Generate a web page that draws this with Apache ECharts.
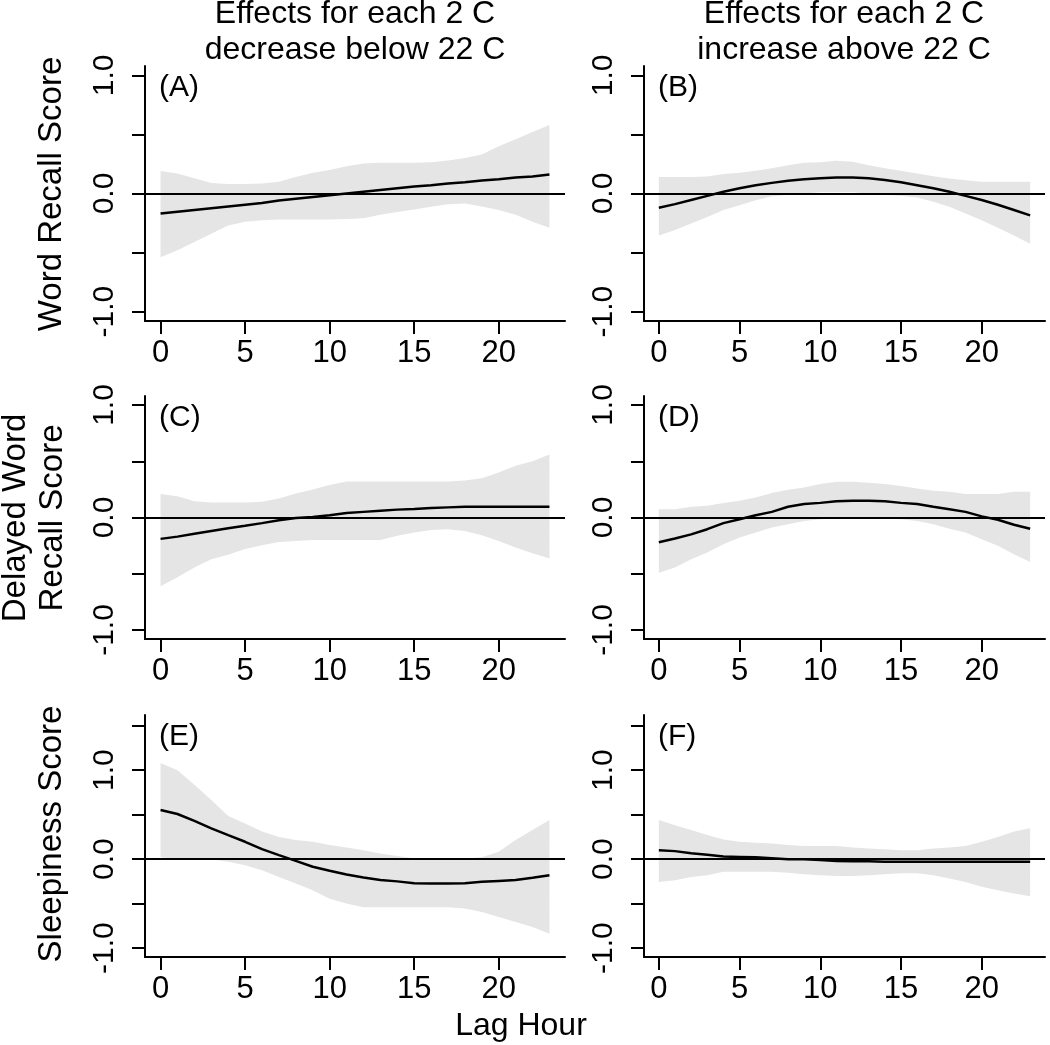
<!DOCTYPE html>
<html>
<head>
<meta charset="utf-8">
<script src="https://cdn.jsdelivr.net/npm/echarts@6/dist/echarts.min.js"></script>
<style>
html,body{margin:0;padding:0;background:#fff;}
#chart{width:1050px;height:1045px;}
</style>
</head>
<body>
<div id="chart"></div>
<script>
// ---- data ----
const lagHours = [0,1,2,3,4,5,6,7,8,9,10,11,12,13,14,15,16,17,18,19,20,21,22,23];
const xTicks = [0,5,10,15,20];
const yTicksAB = [-1,-0.5,0,0.5,1];
const yTicksE = [-1,-0.5,0,0.5,1,1.5];
const yLabels = [-1,0,1];

const fitA = [-0.17,-0.155,-0.14,-0.125,-0.11,-0.095,-0.08,-0.06,-0.045,-0.03,-0.015,0.0,0.015,0.03,0.045,0.06,0.07,0.085,0.095,0.11,0.12,0.135,0.145,0.16];
const hiA  = [0.19,0.17,0.13,0.09,0.08,0.08,0.085,0.10,0.14,0.175,0.20,0.23,0.255,0.26,0.26,0.26,0.265,0.28,0.30,0.33,0.40,0.46,0.52,0.58];
const loA  = [-0.54,-0.48,-0.41,-0.34,-0.27,-0.24,-0.227,-0.22,-0.22,-0.22,-0.22,-0.216,-0.21,-0.18,-0.156,-0.136,-0.113,-0.09,-0.085,-0.11,-0.14,-0.18,-0.24,-0.29];

const fitB = [-0.12,-0.09,-0.055,-0.02,0.015,0.045,0.07,0.09,0.108,0.12,0.13,0.136,0.136,0.13,0.115,0.095,0.07,0.045,0.015,-0.02,-0.055,-0.095,-0.14,-0.185];
const hiB  = [0.14,0.14,0.14,0.145,0.165,0.176,0.193,0.213,0.24,0.26,0.265,0.278,0.27,0.24,0.213,0.193,0.17,0.147,0.128,0.113,0.1,0.1,0.1,0.1];
const loB  = [-0.355,-0.31,-0.255,-0.2,-0.14,-0.1,-0.057,-0.023,-0.01,0.0,0.01,0.01,0.01,0.0,-0.01,-0.02,-0.034,-0.07,-0.113,-0.17,-0.227,-0.29,-0.355,-0.425];

const fitC = [-0.19,-0.17,-0.145,-0.12,-0.095,-0.074,-0.05,-0.025,-0.005,0.005,0.02,0.04,0.05,0.06,0.07,0.075,0.085,0.09,0.095,0.095,0.095,0.095,0.095,0.095];
const hiC  = [0.21,0.19,0.145,0.134,0.134,0.134,0.14,0.17,0.214,0.25,0.29,0.32,0.32,0.32,0.32,0.32,0.32,0.32,0.33,0.35,0.40,0.46,0.50,0.56];
const loC  = [-0.61,-0.53,-0.445,-0.37,-0.33,-0.28,-0.246,-0.217,-0.208,-0.2,-0.2,-0.2,-0.2,-0.2,-0.163,-0.134,-0.11,-0.104,-0.12,-0.157,-0.208,-0.267,-0.318,-0.365];

const fitD = [-0.22,-0.187,-0.15,-0.104,-0.05,-0.015,0.02,0.05,0.095,0.12,0.13,0.145,0.148,0.148,0.145,0.13,0.12,0.095,0.074,0.05,0.01,-0.02,-0.065,-0.1];
const hiD  = [0.074,0.074,0.095,0.104,0.128,0.148,0.178,0.217,0.246,0.267,0.297,0.317,0.317,0.31,0.297,0.28,0.258,0.237,0.228,0.208,0.208,0.208,0.228,0.228];
const loD  = [-0.49,-0.445,-0.37,-0.31,-0.237,-0.178,-0.134,-0.089,-0.06,-0.03,-0.015,-0.01,-0.01,-0.01,-0.01,-0.015,-0.03,-0.06,-0.1,-0.134,-0.193,-0.252,-0.326,-0.395];

const fitE = [0.553,0.507,0.43,0.346,0.27,0.195,0.113,0.045,-0.019,-0.086,-0.13,-0.173,-0.207,-0.235,-0.25,-0.27,-0.274,-0.274,-0.27,-0.255,-0.245,-0.235,-0.21,-0.18];
const hiE  = [1.08,1.0,0.835,0.665,0.485,0.4,0.31,0.25,0.214,0.195,0.158,0.13,0.1,0.064,0.034,0.008,0.008,0.008,0.008,0.02,0.083,0.214,0.327,0.44];
const loE  = [0.02,0.0,0.0,0.0,-0.03,-0.068,-0.124,-0.2,-0.274,-0.35,-0.444,-0.5,-0.54,-0.54,-0.54,-0.54,-0.54,-0.54,-0.556,-0.594,-0.65,-0.707,-0.763,-0.838];

const fitF = [0.1,0.09,0.065,0.05,0.03,0.025,0.02,0.01,0.0,0.0,-0.01,-0.02,-0.025,-0.025,-0.03,-0.03,-0.03,-0.03,-0.03,-0.03,-0.03,-0.03,-0.03,-0.03];
const hiF  = [0.44,0.38,0.327,0.27,0.22,0.195,0.184,0.177,0.158,0.147,0.147,0.147,0.13,0.12,0.11,0.1,0.1,0.12,0.13,0.147,0.195,0.25,0.31,0.346];
const loF  = [-0.256,-0.237,-0.2,-0.18,-0.143,-0.143,-0.143,-0.143,-0.154,-0.17,-0.18,-0.19,-0.19,-0.18,-0.17,-0.16,-0.16,-0.18,-0.218,-0.256,-0.31,-0.35,-0.387,-0.417];

const panelTags = ['(A)','(B)','(C)','(D)','(E)','(F)'];
const colTitles = ['Effects for each 2 C\ndecrease below 22 C','Effects for each 2 C\nincrease above 22 C'];
const rowTitles = ['Word Recall Score','Delayed Word\nRecall Score','Sleepiness Score'];
const xTitle = 'Lag Hour';

// ---- layout ----
const FONT = 'Liberation Sans, Arial, sans-serif';
const panels = [
  {fit:fitA, hi:hiA, lo:loA, left:145, width:420, top:66, height:255, ymin:-1.08, ymax:1.08, ticks:yTicksAB},
  {fit:fitB, hi:hiB, lo:loB, left:644, width:401, top:66, height:255, ymin:-1.08, ymax:1.08, ticks:yTicksAB},
  {fit:fitC, hi:hiC, lo:loC, left:145, width:420, top:396, height:243, ymin:-1.08, ymax:1.08, ticks:yTicksAB},
  {fit:fitD, hi:hiD, lo:loD, left:644, width:401, top:396, height:243, ymin:-1.08, ymax:1.08, ticks:yTicksAB},
  {fit:fitE, hi:hiE, lo:loE, left:145, width:420, top:715, height:242, ymin:-1.1, ymax:1.62, ticks:yTicksE},
  {fit:fitF, hi:hiF, lo:loF, left:644, width:401, top:715, height:242, ymin:-1.1, ymax:1.62, ticks:yTicksE}
];

const grid = [], xAxis = [], yAxis = [], series = [], graphic = [];
const axisLine = {show:true, onZero:false, lineStyle:{color:'#000', width:2}};

panels.forEach((p, i) => {
  grid.push({left:p.left, top:p.top, width:p.width, height:p.height, containLabel:false});
  xAxis.push({
    type:'value', gridIndex:i, min:-0.92, max:23.92,
    axisLine:axisLine,
    axisTick:{show:true, length:13, customValues:xTicks, lineStyle:{color:'#000', width:2}},
    axisLabel:{show:true, customValues:xTicks, fontSize:31, fontFamily:FONT, color:'#000', margin:17},
    splitLine:{show:false}
  });
  yAxis.push({
    type:'value', gridIndex:i, min:p.ymin, max:p.ymax,
    axisLine:axisLine,
    axisTick:{show:true, length:13, customValues:p.ticks, lineStyle:{color:'#000', width:2}},
    axisLabel:{show:true, customValues:yLabels, rotate:90, fontSize:30, fontFamily:FONT, color:'#000', margin:25,
      formatter:(v)=>Number(v).toFixed(1)},
    splitLine:{show:false}
  });
  const bandData = lagHours.map((h, k) => [h, p.lo[k], p.hi[k]]);
  series.push({
    type:'custom', xAxisIndex:i, yAxisIndex:i, data:bandData, silent:true, z:1,
    encode:{x:0, y:[1,2]},
    renderItem:(params, api) => {
      if (params.dataIndex !== 0) return null;
      const upper = bandData.map(d => api.coord([d[0], d[2]]));
      const lower = bandData.slice().reverse().map(d => api.coord([d[0], d[1]]));
      return {type:'polygon', shape:{points:upper.concat(lower)}, style:{fill:'#e5e5e5', stroke:null}};
    }
  });
  series.push({
    type:'line', xAxisIndex:i, yAxisIndex:i, data:lagHours.map((h, k) => [h, p.fit[k]]),
    symbol:'none', lineStyle:{color:'#000', width:2.5}, silent:true, z:3,
    markLine:{silent:true, symbol:['none','none'], label:{show:false},
      lineStyle:{color:'#000', width:2.2, type:'solid'}, data:[{yAxis:0}], animation:false}
  });
  graphic.push({type:'text', x:p.left + 14, y:p.top + 22,
    style:{text:panelTags[i], fontSize:30, fontFamily:FONT, fill:'#000', align:'left', verticalAlign:'middle'}});
});

// column titles
graphic.push({type:'text', x:355, y:32, style:{text:colTitles[0], fontSize:32, lineHeight:36, fontFamily:FONT, fill:'#000', align:'center', verticalAlign:'middle'}});
graphic.push({type:'text', x:844, y:32, style:{text:colTitles[1], fontSize:32, lineHeight:36, fontFamily:FONT, fill:'#000', align:'center', verticalAlign:'middle'}});
// row titles
graphic.push({type:'text', x:52, y:194, rotation:Math.PI/2, style:{text:rowTitles[0], fontSize:33, fontFamily:FONT, fill:'#000', align:'center', verticalAlign:'middle'}});
graphic.push({type:'text', x:34, y:518, rotation:Math.PI/2, style:{text:rowTitles[1], fontSize:33, lineHeight:37, fontFamily:FONT, fill:'#000', align:'center', verticalAlign:'middle'}});
graphic.push({type:'text', x:52, y:834, rotation:Math.PI/2, style:{text:rowTitles[2], fontSize:33, fontFamily:FONT, fill:'#000', align:'center', verticalAlign:'middle'}});
// x title
graphic.push({type:'text', x:521, y:1026, style:{text:xTitle, fontSize:32, fontFamily:FONT, fill:'#000', align:'center', verticalAlign:'middle'}});

const chart = echarts.init(document.getElementById('chart'), null, {renderer:'canvas'});
chart.setOption({
  animation:false,
  backgroundColor:'#fff',
  grid, xAxis, yAxis, series, graphic
});
</script>
</body>
</html>
